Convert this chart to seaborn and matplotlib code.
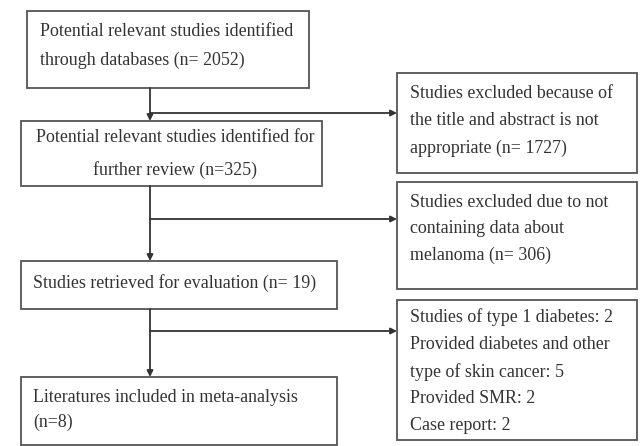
import matplotlib
matplotlib.use('Agg')
import matplotlib.pyplot as plt
import seaborn as sns

sns.set_theme(style='white')
plt.rcParams['font.family'] = ['Liberation Serif', 'DejaVu Serif']

# counts shown in the flow chart
n_identified = 2052
n_review = 325
n_retrieved = 19
n_included = 8
n_excl_title = 1727
n_excl_melanoma = 306
excl_reasons = ['Studies of type 1 diabetes', 'Provided diabetes and other\ntype of skin cancer',
                'Provided SMR', 'Case report']
excl_counts = [2, 5, 2, 2]

main_texts = [
    f'Potential relevant studies identified\nthrough databases (n= {n_identified})',
    f'Potential relevant studies identified for\nfurther review (n={n_review})',
    f'Studies retrieved for evaluation (n= {n_retrieved})',
    f'Literatures included in meta-analysis\n(n={n_included})',
]
side_texts = [
    f'Studies excluded because of\nthe title and abstract is not\nappropriate (n= {n_excl_title})',
    f'Studies excluded due to not\ncontaining data about\nmelanoma (n= {n_excl_melanoma})',
    '\n'.join(f'{r}: {c}' for r, c in zip(excl_reasons, excl_counts)),
]

# layout in pixels (x0, y0, x1, y1), text centre y and line spacing
main_boxes = [(27, 11, 309, 88), (21, 121, 322, 186), (21, 261, 337, 309), (21, 377, 337, 445)]
main_text_y = [46, 154, 283, 410]
main_text_x = [40, 175, 33, 33]
main_ls = [1.9, 2.15, 1.0, 1.63]
side_boxes = [(397, 73, 637, 173), (397, 182, 637, 289), (397, 300, 637, 440)]
side_text_y = [121, 229, 371]
side_ls = [1.77, 1.72, 1.73]
branch_y = [113, 219, 331]
spine_x = 150
edge = '#555555'
txt = '#333333'
fs = 12.9

fig = plt.figure(figsize=(6.4, 4.46), dpi=100)
ax = fig.add_axes([0, 0, 1, 1])
ax.set_xlim(0, 640)
ax.set_ylim(446, 0)
ax.axis('off')


def box(b):
    x0, y0, x1, y1 = b
    ax.add_patch(plt.Rectangle((x0, y0), x1 - x0, y1 - y0, fill=False, ec=edge, lw=1.3))


for i, b in enumerate(main_boxes):
    box(b)
    ax.text(main_text_x[i], main_text_y[i], main_texts[i], ha='center' if i == 1 else 'left',
            va='center', fontsize=fs, color=txt, linespacing=main_ls[i],
            multialignment='center' if i == 1 else 'left')

for b, t, y, ls in zip(side_boxes, side_texts, side_text_y, side_ls):
    box(b)
    ax.text(b[0] + 13, y, t, ha='left', va='center', fontsize=fs, color=txt, linespacing=ls)

arrow = dict(arrowstyle='-|>', color='#333333', lw=1.3, mutation_scale=9, shrinkA=0, shrinkB=0)

# vertical arrows between main boxes
for top, bot in zip(main_boxes[:-1], main_boxes[1:]):
    ax.annotate('', xy=(spine_x, bot[1]), xytext=(spine_x, top[3]), arrowprops=arrow)

# side arrows
for y, b in zip(branch_y, side_boxes):
    ax.annotate('', xy=(b[0], y), xytext=(spine_x, y), arrowprops=arrow)

plt.savefig('out.png', dpi=100)
